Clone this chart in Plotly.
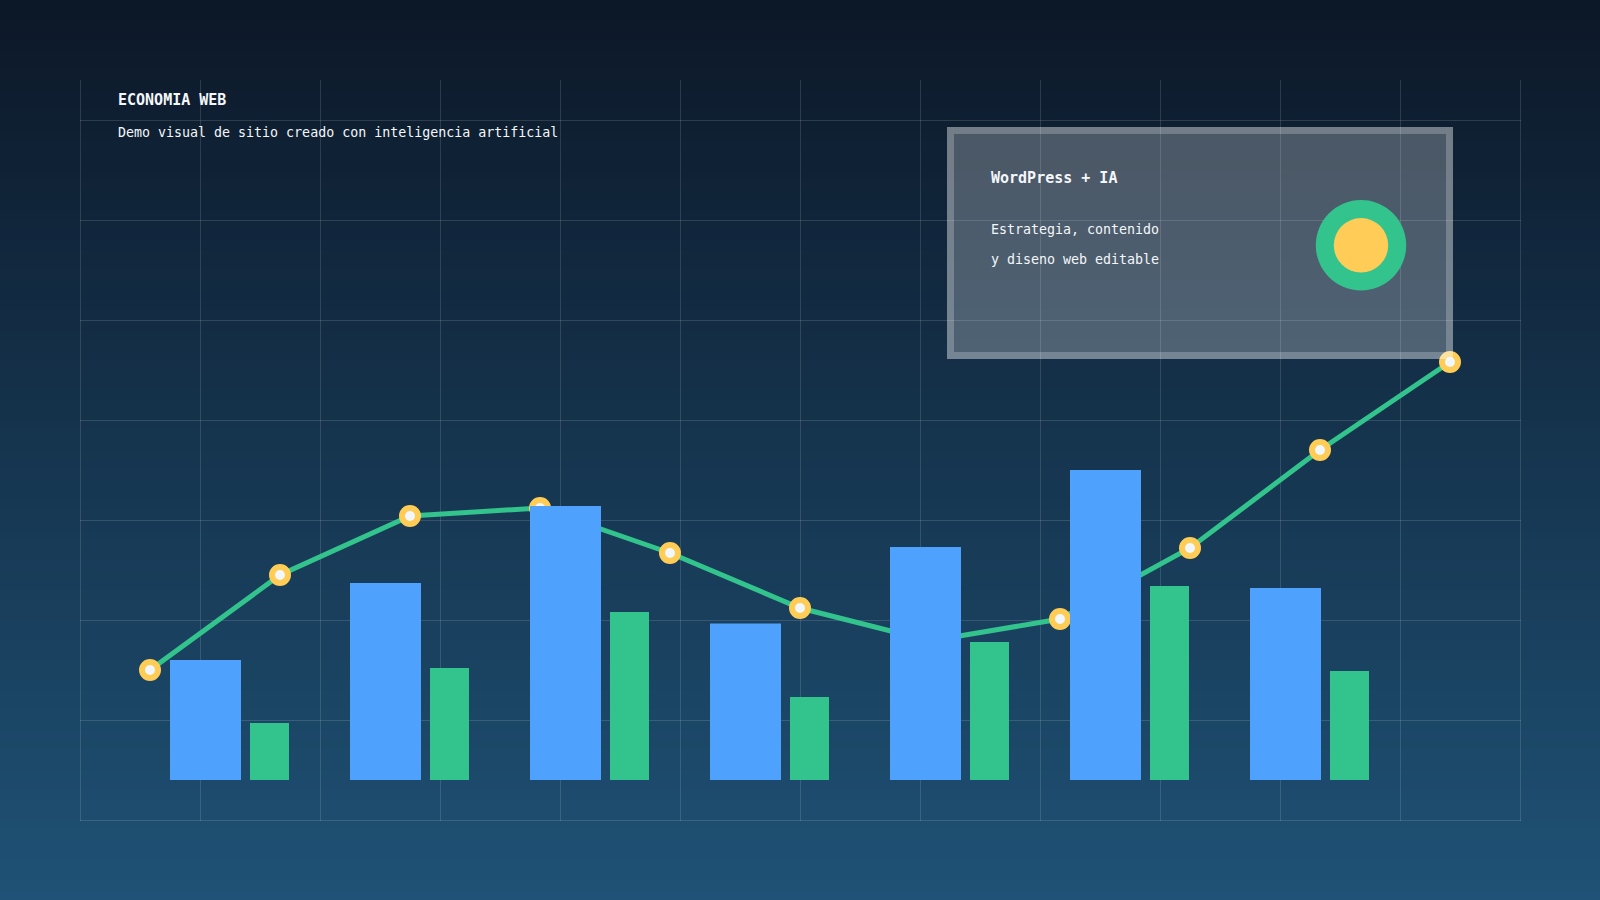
import plotly.graph_objects as go

# ---------------- data ----------------
groups = ["G1", "G2", "G3", "G4", "G5", "G6", "G7"]
serie_azul = [120, 197, 274, 156.5, 233, 310, 192]
serie_verde = [57, 112, 168, 83, 138, 194, 109]
puntos = list(range(11))
tendencia = [110, 205, 264, 272, 227, 172, 139, 161, 232, 330, 418]

title_text = "ECONOMIA WEB"
subtitle_text = "Demo visual de sitio creado con inteligencia artificial"
card_title = "WordPress + IA"
card_line1 = "Estrategia, contenido"
card_line2 = "y diseno web editable"

# ---------------- layout geometry (pixels) ----------------
W, H = 1600, 900
L, R, T, B = 80, 80, 80, 80
PW, PH = W - L - R, H - T - B


def px(x):
    return (x - L) / PW


def py(y):
    return (H - B - y) / PH


FONT = "DejaVu Sans Mono"
BLUE = "#4fa1fe"
GREEN = "#33c48d"
YELLOW = "#ffcd56"

fig = go.Figure()

# trend line (base axes, drawn beneath bars)
fig.add_trace(go.Scatter(
    x=puntos, y=tendencia, mode="lines+markers",
    line=dict(color=GREEN, width=5),
    marker=dict(size=16, color="#f2f7fb", line=dict(color=YELLOW, width=6)),
    xaxis="x", yaxis="y", hoverinfo="skip", showlegend=False,
))

# bars on overlaying axes
slot = 180.0
fig.add_trace(go.Bar(
    x=groups, y=serie_azul, marker=dict(color=BLUE, line=dict(width=0)),
    width=71 / slot, offset=-59.5 / slot,
    xaxis="x2", yaxis="y2", showlegend=False, hoverinfo="skip",
))
fig.add_trace(go.Bar(
    x=groups, y=serie_verde, marker=dict(color=GREEN, line=dict(width=0)),
    width=39 / slot, offset=20.5 / slot,
    xaxis="x2", yaxis="y2", showlegend=False, hoverinfo="skip",
))

shapes = []
# background gradient
top_c = (12, 23, 39)
bot_c = (31, 82, 118)
N = 90
for i in range(N):
    t = (i + 0.5) / N
    c = tuple(round(top_c[k] + (bot_c[k] - top_c[k]) * t) for k in range(3))
    y0 = i * H / N
    y1 = (i + 1) * H / N + 0.6
    shapes.append(dict(type="rect", xref="paper", yref="paper",
                       x0=px(0), x1=px(W), y0=py(y1), y1=py(y0),
                       line=dict(width=0), fillcolor="rgb(%d,%d,%d)" % c, layer="below"))
# grid
GRID = "rgba(255,255,255,0.13)"
for k in range(13):
    xx = 80.5 + 120 * k
    shapes.append(dict(type="line", xref="paper", yref="paper",
                       x0=px(xx), x1=px(xx), y0=py(80), y1=py(821),
                       line=dict(color=GRID, width=1), layer="below"))
for k in range(8):
    yy = 120.5 + 100 * k
    shapes.append(dict(type="line", xref="paper", yref="paper",
                       x0=px(80), x1=px(1521), y0=py(yy), y1=py(yy),
                       line=dict(color=GRID, width=1), layer="below"))

# card
cx0, cx1, cy0, cy1 = 947, 1453, 127, 359
bw = 7
shapes.append(dict(type="rect", xref="paper", yref="paper",
                   x0=px(cx0 + bw), x1=px(cx1 - bw), y0=py(cy1 - bw), y1=py(cy0 + bw),
                   line=dict(width=0), fillcolor="rgba(255,255,255,0.25)", layer="above"))
ring = (f"M{px(cx0)},{py(cy0)} L{px(cx1)},{py(cy0)} L{px(cx1)},{py(cy1)} L{px(cx0)},{py(cy1)} Z "
        f"M{px(cx0 + bw)},{py(cy0 + bw)} L{px(cx0 + bw)},{py(cy1 - bw)} L{px(cx1 - bw)},{py(cy1 - bw)} "
        f"L{px(cx1 - bw)},{py(cy0 + bw)} Z")
shapes.append(dict(type="path", xref="paper", yref="paper", path=ring,
                   line=dict(width=0), fillcolor="rgba(255,255,255,0.42)", layer="above"))
# badge
ccx, ccy = 1361, 245.3
for r, col in [(45.2, GREEN), (27.2, "#ffcd57")]:
    shapes.append(dict(type="circle", xref="paper", yref="paper",
                       x0=px(ccx - r), x1=px(ccx + r), y0=py(ccy + r), y1=py(ccy - r),
                       line=dict(width=0), fillcolor=col, layer="above"))

annotations = [
    dict(text="<b>%s</b>" % title_text, x=px(116), y=py(99.5), size=15),
    dict(text=subtitle_text, x=px(116), y=py(132.5), size=13.3),
    dict(text="<b>%s</b>" % card_title, x=px(988.5), y=py(178), size=15),
    dict(text=card_line1, x=px(988.5), y=py(229), size=13.3),
    dict(text=card_line2, x=px(988.5), y=py(259), size=13.3),
]
anns = []
for a in annotations:
    anns.append(dict(text=a["text"], x=a["x"], y=a["y"], xref="paper", yref="paper",
                     xanchor="left", yanchor="middle", showarrow=False,
                     font=dict(family=FONT, size=a["size"], color="#f4f7fa")))

fig.update_layout(
    width=W, height=H,
    margin=dict(l=L, r=R, t=T, b=B, pad=0),
    paper_bgcolor="rgb(12,23,39)",
    plot_bgcolor="rgba(0,0,0,0)",
    shapes=shapes,
    annotations=anns,
    showlegend=False,
    barmode="overlay",
    xaxis=dict(range=[-70 / 130, 1370 / 130], visible=False, fixedrange=True),
    yaxis=dict(range=[-40, 700], visible=False, fixedrange=True),
    xaxis2=dict(type="category", range=[-149.5 / slot, 1290.5 / slot], overlaying="x",
                visible=False, fixedrange=True),
    yaxis2=dict(range=[-40, 700], overlaying="y", visible=False, fixedrange=True),
)

fig.write_html("out.html", include_plotlyjs=True,
               config={"displayModeBar": False},
               post_script="document.body.style.margin='0';document.body.style.overflow='hidden';")
